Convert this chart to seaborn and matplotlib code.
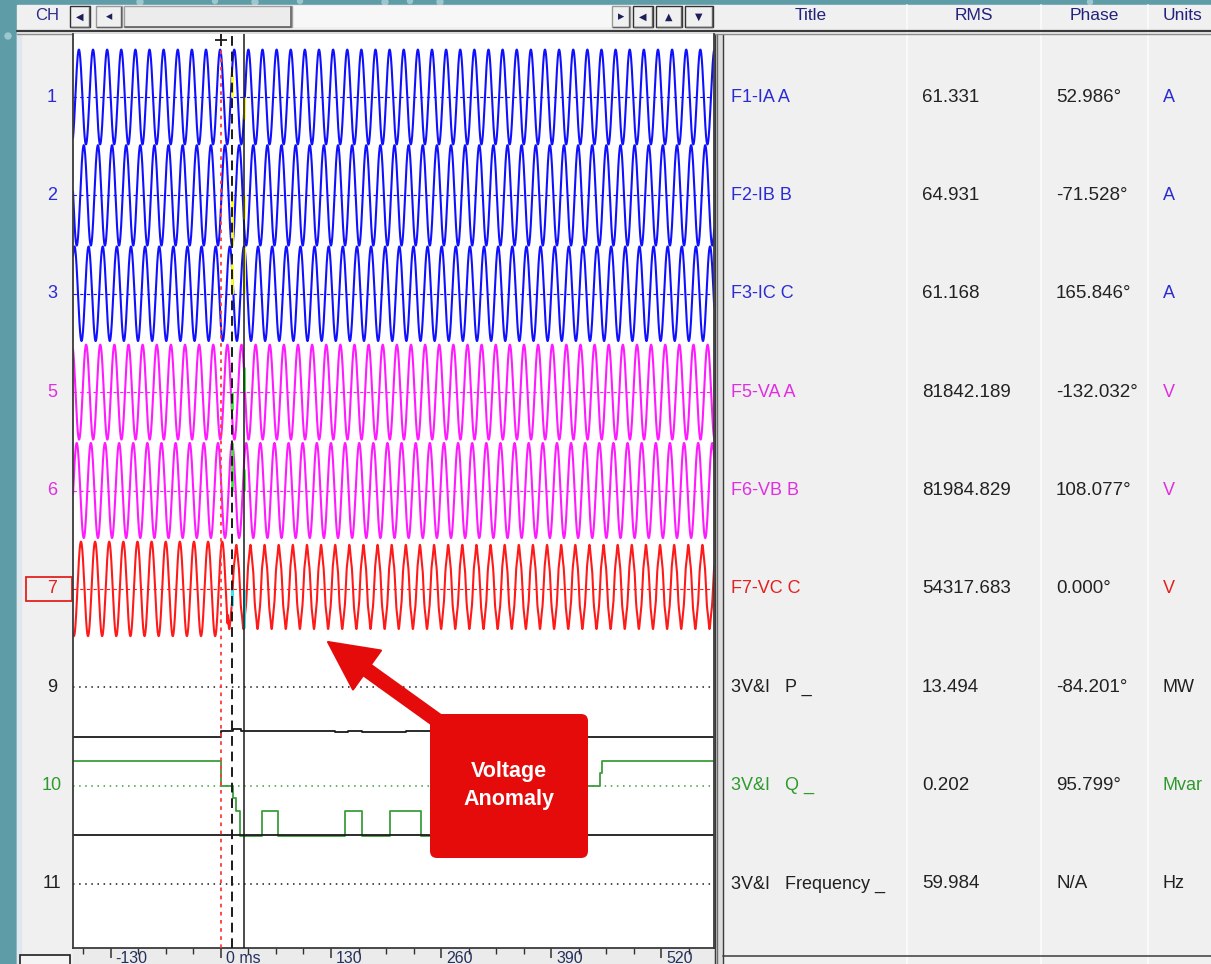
import numpy as np
import pandas as pd
import matplotlib
matplotlib.use("Agg")
import matplotlib.pyplot as plt
import matplotlib.transforms as mtransforms
from matplotlib.patches import Rectangle, FancyBboxPatch, Polygon
import seaborn as sns

sns.set_theme(style="white")
plt.rcParams['font.family'] = ['Liberation Sans', 'DejaVu Sans']

# ---------------- channel table ----------------
CH_NUMBERS = ["1", "2", "3", "5", "6", "7", "9", "10", "11"]
CH_TITLES = ["F1-IA A", "F2-IB B", "F3-IC C", "F5-VA A", "F6-VB B", "F7-VC C",
             "3V&I   P _", "3V&I   Q _", "3V&I   Frequency _"]
CH_RMS = ["61.331", "64.931", "61.168", "81842.189", "81984.829", "54317.683",
          "13.494", "0.202", "59.984"]
CH_PHASE = ["52.986°", "-71.528°", "165.846°", "-132.032°", "108.077°", "0.000°",
            "-84.201°", "95.799°", "N/A"]
CH_UNITS = ["A", "A", "A", "V", "V", "V", "MW", "Mvar", "Hz"]

# analog waveform parameters (RMS and phase at the cursor)
WAVE_NAMES = ["IA", "IB", "IC", "VA", "VB", "VC"]
WAVE_RMS = [61.331, 64.931, 61.168, 81842.189, 81984.829, 54317.683]
WAVE_PHASE_DEG = [52.986, -71.528, 165.846, -132.032, 108.077, 0.000]
WAVE_HALF_SCALE = [90.0, 90.0, 90.0, 120000.0, 120000.0, 96000.0]  # value shown at half a row
VC_PRE_RMS = 65200.0          # phase C voltage before the disturbance
VC_POST_OFFSET = 3800.0       # dc shift of phase C after the disturbance
VC_POST_H5 = 0.07             # 5th harmonic share of phase C after the disturbance
FREQ_HZ = 60.0

# cursors (ms)
CURSOR_TRIGGER = 0.0
CURSOR_A = 13.0
CURSOR_B = 27.1
PHASE_REF_MS = 35.0

# derived channels, read as step traces
P_TIMES = [-175, 0, 14, 24, 135, 150, 167, 218, 240, 420, 583]
P_VALUES = [-13.5, -11.9, -11.4, -11.7, -12.2, -11.7, -12.2, -11.7, -11.7, -13.5, -13.5]
P_HALF_SCALE = 13.3

Q_TIMES = [-175, 0, 14, 17.5, 23, 49, 68, 147, 167, 200, 236, 400, 447, 450, 583]
Q_VALUES = [1.0, 0.0, -0.5, -1.0, -2.0, -1.0, -2.0, -1.0, -2.0, -1.0, -2.0, 0.0, 0.5, 1.0, 1.0]
Q_HALF_SCALE = 1.97

F_TIMES = [-175, 583]
F_VALUES = [59.984, 59.984]
F_BASE = 59.900
F_HALF_SCALE = 0.084

# time axis
T_MIN, T_MAX = -174.4, 582.0
MAJOR_TICKS = [-130, 0, 130, 260, 390, 520]
MAJOR_LABELS = ["-130", "0 ms", "130", "260", "390", "520"]
MINOR_STEP = 32.5

BLUE = "#1010ff"
MAGENTA = "#ff1aff"
RED = "#ff1a1a"
GREEN = "#3c9e3c"
BLACK = "#1a1a1a"
ROW_COLORS = [BLUE, BLUE, BLUE, MAGENTA, MAGENTA, RED, BLACK, GREEN, BLACK]
LABEL_COLORS = ["#2b2bd6", "#2b2bd6", "#2b2bd6", "#e02ee0", "#e02ee0", "#e42020",
                "#202020", "#2e9a2e", "#202020"]
UNIT_COLORS = LABEL_COLORS
MARK_COLORS = ["#ffff20", "#ffff20", "#ffff20", "#40e040", "#40e040", "#30e8f0"]

W, H = 1211, 964
fig = plt.figure(figsize=(W / 100, H / 100), dpi=100)

# ---------------- window chrome ----------------
bg = fig.add_axes([0, 0, 1, 1], zorder=0)
bg.set_xlim(0, W)
bg.set_ylim(H, 0)
bg.axis("off")
bg.add_patch(Rectangle((0, 0), W, H, color="#5e9ca8", zorder=0))
for cx, cy, r in [(8, 36, 3), (140, 2, 3), (215, 1, 2.5), (255, 2, 3), (300, 1, 2.5),
                  (385, 2, 3), (410, 1, 2.5), (440, 2, 3), (1090, 2, 2.5)]:
    bg.add_patch(matplotlib.patches.Circle((cx, cy), r, color="#9cc7cf", zorder=0.5))
bg.add_patch(Rectangle((17, 5), W - 17, H - 5, color="#f0f0f0", zorder=1))
bg.add_patch(Rectangle((17, 34), 4, H - 34, color="#dfe7ee", zorder=1.1))

# toolbar
bg.text(47, 16, "CH", ha="center", va="center", fontsize=12, color="#2c2c8c", zorder=3)


def button(x0, x1, glyph, dark=False, fs=7):
    bg.add_patch(Rectangle((x0, 6), x1 - x0, 21, facecolor="#f0f0f0",
                           edgecolor="#303030" if dark else "#9a9a9a", lw=1.0, zorder=2))
    bg.plot([x0 + 1, x1 - 1, x1 - 1], [27, 27, 7], color="#606060", lw=1.0, zorder=2.1)
    bg.text((x0 + x1) / 2, 16.5, glyph, ha="center", va="center", fontsize=fs,
            color="#1e1e5a", family="DejaVu Sans", zorder=3)


button(70, 90, "◀", dark=True)
button(96, 122, "◂", fs=9)
bg.add_patch(Rectangle((124, 6), 168, 21, facecolor="#ececec", edgecolor="#a0a0a0", lw=1.0, zorder=2))
bg.plot([125, 291, 291], [27, 27, 7], color="#606060", lw=1.2, zorder=2.1)
bg.add_patch(Rectangle((292, 6), 320, 21, facecolor="#f7f7f7", edgecolor="none", zorder=1.5))
button(612, 630, "▸", fs=9)
button(633, 653, "◀", dark=True)
button(656, 682, "▲", dark=True)
button(685, 713, "▼", dark=True)

for label, xc in zip(["Title", "RMS", "Phase", "Units"], [811, 974, 1094, 1183]):
    bg.text(xc, 16, label, ha="center", va="center", fontsize=12.5, color="#22227e", zorder=3)

# column separators of the value table
for xs in [907, 1041, 1148]:
    bg.plot([xs, xs], [5, H], color="#fbfbfb", lw=1.3, zorder=1.5)

# header rule
bg.plot([17, W], [30.5, 30.5], color="#3a3a3a", lw=1.6, zorder=4)
bg.plot([17, W], [33.5, 33.5], color="#8a8a8a", lw=1.0, zorder=4)

# splitter between trace view and table
bg.add_patch(Rectangle((714, 34), 9, H - 34, facecolor="#dcdcdc", edgecolor="none", zorder=2))
for xs, c in [(714.5, "#3a3a3a"), (717, "#6a6a6a"), (722.5, "#3a3a3a")]:
    bg.plot([xs, xs], [34, H], color=c, lw=1.0, zorder=2.1)

# bottom strip
bg.add_patch(Rectangle((73, 948), 641, 16, color="#ebebeb", zorder=1.6))
bg.add_patch(Rectangle((20, 955), 50, 12, facecolor="#f4f4f4", edgecolor="#202020", lw=1.2, zorder=2))
bg.plot([723, W], [956, 956], color="#4a4a4a", lw=1.2, zorder=2)

# ---------------- trace view ----------------
left, right, top, bottom = 73, 714, 34, 948
ax = fig.add_axes([left / W, 1 - bottom / H, (right - left) / W, (bottom - top) / H], zorder=5)
row0_px, row_px = 97.0, 98.375
ax.set_xlim(T_MIN, T_MAX)
ax.set_ylim((bottom - row0_px) / row_px, (top - row0_px) / row_px)
ax.set_facecolor("white")
ax.set_yticks([])

t = np.arange(-175.0, 583.0, 0.2)
omega = 2 * np.pi * FREQ_HZ / 1000.0

wave_frames = []
for i, name in enumerate(WAVE_NAMES):
    phi = np.deg2rad(WAVE_PHASE_DEG[i])
    arg = omega * (t - PHASE_REF_MS) + phi
    if name == "VC":
        pre = VC_PRE_RMS * np.sqrt(2) * np.cos(arg)
        post = WAVE_RMS[i] * np.sqrt(2) * (np.cos(arg) + VC_POST_H5 * np.cos(5 * arg)) \
            + VC_POST_OFFSET
        val = np.where(t < 8.0, pre, post)
    else:
        val = WAVE_RMS[i] * np.sqrt(2) * np.cos(arg)
    y = i - 0.5 * val / WAVE_HALF_SCALE[i]
    wave_frames.append(pd.DataFrame({"t": t, "y": y, "ch": name}))

for i, df in enumerate(wave_frames):
    ax.axhline(i, color=ROW_COLORS[i], lw=0.8, ls=(0, (3, 3)), zorder=1)
    sns.lineplot(data=df, x="t", y="y", color=ROW_COLORS[i], lw=1.5, ax=ax,
                 estimator=None, sort=False, zorder=2)

# cursor value markers on the analog channels
for i, df in enumerate(wave_frames):
    for tc in (CURSOR_A, CURSOR_B):
        yv = np.interp(tc, df["t"], df["y"])
        ax.plot([tc, tc], [i, yv], color=MARK_COLORS[i], lw=2.0, zorder=3,
                solid_capstyle="butt")

# derived channels
for r, (tt, vv, scale, base) in zip(
        [6, 7, 8],
        [(P_TIMES, P_VALUES, P_HALF_SCALE, 0.0),
         (Q_TIMES, Q_VALUES, Q_HALF_SCALE, 0.0),
         (F_TIMES, F_VALUES, F_HALF_SCALE, F_BASE)]):
    ax.axhline(r, color=ROW_COLORS[r], lw=1.1, ls=(0, (1, 3)), zorder=1)
    df = pd.DataFrame({"t": tt, "y": [r - 0.5 * (v - base) / scale for v in vv]})
    sns.lineplot(data=df, x="t", y="y", color=ROW_COLORS[r], lw=1.3, ax=ax,
                 estimator=None, sort=False, drawstyle="steps-post", zorder=2)

# cursors
ax.axvline(CURSOR_TRIGGER, color="#ff3a3a", lw=1.3, ls=(0, (2, 2.5)), zorder=4)
ax.axvline(CURSOR_A, color="#1a1a1a", lw=1.4, ls=(0, (5, 3)), zorder=4)
ax.axvline(CURSOR_B, color="#1a1a1a", lw=1.1, zorder=4)
ax.plot([CURSOR_TRIGGER], [0.993], marker="+", ms=8, mew=1.3, color="#1a1a1a",
        transform=mtransforms.blended_transform_factory(ax.transData, ax.transAxes),
        clip_on=False, zorder=6)

ax.set_xlabel("")
ax.set_ylabel("")
for s in ["left", "right", "bottom"]:
    ax.spines[s].set_visible(True)
    ax.spines[s].set_color("#3a3a3a")
    ax.spines[s].set_linewidth(1.3)
ax.spines["top"].set_visible(False)

ax.set_xticks(MAJOR_TICKS)
ax.set_xticks(np.arange(-162.5, 583, MINOR_STEP), minor=True)
ax.tick_params(axis="x", which="major", direction="out", length=7, width=1.1,
               colors="#303030", labelbottom=False, bottom=True)
ax.tick_params(axis="x", which="minor", direction="out", length=4, width=1.0,
               colors="#303030", bottom=True)
lab_tr = mtransforms.blended_transform_factory(ax.transData, ax.transAxes) + \
    mtransforms.ScaledTranslation(5 / 100, -3 / 100, fig.dpi_scale_trans)
for tv, lab in zip(MAJOR_TICKS, MAJOR_LABELS):
    ax.text(tv, 0, lab, transform=lab_tr, ha="left", va="top", fontsize=11.5,
            color="#26305c", clip_on=False)

# channel numbers and table rows
row_tr = mtransforms.blended_transform_factory(bg.transData, ax.transData)
for r in range(len(CH_NUMBERS)):
    bg.text(52, r, CH_NUMBERS[r], transform=row_tr, ha="center", va="center",
            fontsize=13, color=LABEL_COLORS[r], zorder=6)
    bg.text(731, r, CH_TITLES[r], transform=row_tr, ha="left", va="center",
            fontsize=13, color=LABEL_COLORS[r], zorder=6)
    bg.text(922, r, CH_RMS[r], transform=row_tr, ha="left", va="center",
            fontsize=13.5, color="#222222", zorder=6)
    bg.text(1056, r, CH_PHASE[r], transform=row_tr, ha="left", va="center",
            fontsize=13.5, color="#222222", zorder=6)
    bg.text(1163, r, CH_UNITS[r], transform=row_tr, ha="left", va="center",
            fontsize=13, color=UNIT_COLORS[r], zorder=6)
sel = CH_NUMBERS.index("7")
bg.add_patch(Rectangle((26, sel - 0.122), 46, 0.244, transform=row_tr, fill=False,
                       edgecolor="#e42020", lw=1.3, zorder=6))

# ---------------- callout ----------------
ov = fig.add_axes([0, 0, 1, 1], zorder=20)
ov.set_xlim(0, W)
ov.set_ylim(H, 0)
ov.axis("off")
ov.patch.set_visible(False)
callout_red = "#e60b0b"
tip = np.array([328.0, 642.0])
tail = np.array([445.0, 726.0])
d = (tip - tail) / np.linalg.norm(tip - tail)
n = np.array([-d[1], d[0]])
hb = tip - 48 * d
pts = [tail + 6.5 * n, hb + 6.5 * n, hb + 24 * n, tip, hb - 24 * n, hb - 6.5 * n, tail - 6.5 * n]
ov.add_patch(Polygon(pts, closed=True, facecolor=callout_red, edgecolor=callout_red,
                     lw=1.5, joinstyle="round"))
ov.add_patch(FancyBboxPatch((430, 714), 158, 144, boxstyle="round,pad=0,rounding_size=7",
                            facecolor=callout_red, edgecolor="none"))
ov.text(509, 772, "Voltage", ha="center", va="center", fontsize=15.5, fontweight="bold",
        color="white")
ov.text(509, 799, "Anomaly", ha="center", va="center", fontsize=15.5, fontweight="bold",
        color="white")

fig.savefig("out.png", dpi=100)
